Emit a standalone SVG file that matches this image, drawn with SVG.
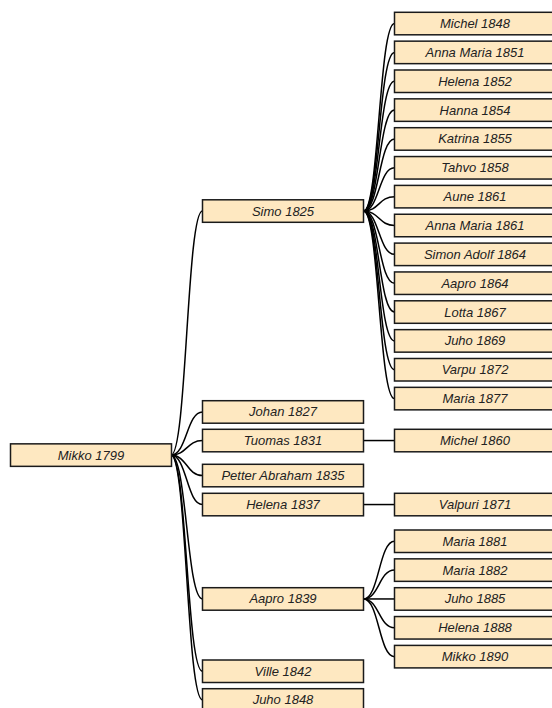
<svg xmlns="http://www.w3.org/2000/svg" width="552" height="708" viewBox="0 0 552 708">
<style>
.n rect{fill:#fee8c1;stroke:#1a1a1a;stroke-width:1.5}
.n text{font-family:"Liberation Sans",Arial,sans-serif;font-style:italic;font-size:13px;fill:#222;text-anchor:middle}
#links path{fill:none;stroke:#000;stroke-width:1.5}
</style>
<rect width="552" height="708" fill="#fff"/>
<g id="links">
<path d="M171,455.1C186.75,455.1 186.75,211.05 202.5,211.05"/>
<path d="M171,455.1C186.75,455.1 186.75,411.95 202.5,411.95"/>
<path d="M171,455.1C186.75,455.1 186.75,440.55 202.5,440.55"/>
<path d="M171,455.1C186.75,455.1 186.75,475.55 202.5,475.55"/>
<path d="M171,455.1C186.75,455.1 186.75,504.55 202.5,504.55"/>
<path d="M171,455.1C186.75,455.1 186.75,598.95 202.5,598.95"/>
<path d="M171,455.1C186.75,455.1 186.75,671.25 202.5,671.25"/>
<path d="M171,455.1C186.75,455.1 186.75,699.95 202.5,699.95"/>
<path d="M363.5,211.05C379,211.05 379,23.55 394.5,23.55"/>
<path d="M363.5,211.05C379,211.05 379,52.4 394.5,52.4"/>
<path d="M363.5,211.05C379,211.05 379,81.25 394.5,81.25"/>
<path d="M363.5,211.05C379,211.05 379,110.1 394.5,110.1"/>
<path d="M363.5,211.05C379,211.05 379,138.95 394.5,138.95"/>
<path d="M363.5,211.05C379,211.05 379,167.8 394.5,167.8"/>
<path d="M363.5,211.05C379,211.05 379,196.65 394.5,196.65"/>
<path d="M363.5,211.05C379,211.05 379,225.5 394.5,225.5"/>
<path d="M363.5,211.05C379,211.05 379,254.35 394.5,254.35"/>
<path d="M363.5,211.05C379,211.05 379,283.2 394.5,283.2"/>
<path d="M363.5,211.05C379,211.05 379,312.05 394.5,312.05"/>
<path d="M363.5,211.05C379,211.05 379,340.9 394.5,340.9"/>
<path d="M363.5,211.05C379,211.05 379,369.75 394.5,369.75"/>
<path d="M363.5,211.05C379,211.05 379,398.6 394.5,398.6"/>
<path d="M363.5,440.55C379,440.55 379,440.55 394.5,440.55"/>
<path d="M363.5,504.55C379,504.55 379,504.55 394.5,504.55"/>
<path d="M363.5,598.95C379,598.95 379,541.25 394.5,541.25"/>
<path d="M363.5,598.95C379,598.95 379,570.1 394.5,570.1"/>
<path d="M363.5,598.95C379,598.95 379,598.95 394.5,598.95"/>
<path d="M363.5,598.95C379,598.95 379,627.8 394.5,627.8"/>
<path d="M363.5,598.95C379,598.95 379,656.65 394.5,656.65"/>
</g>
<g id="n-mikko1799" class="n"><rect x="10.5" y="443.85" width="161" height="22.5"/><text x="91" y="459.6">Mikko 1799</text></g>
<g id="n-simo1825" class="n"><rect x="202.5" y="199.8" width="161" height="22.5"/><text x="283" y="215.55">Simo 1825</text></g>
<g id="n-johan1827" class="n"><rect x="202.5" y="400.7" width="161" height="22.5"/><text x="283" y="416.45">Johan 1827</text></g>
<g id="n-tuomas1831" class="n"><rect x="202.5" y="429.3" width="161" height="22.5"/><text x="283" y="445.05">Tuomas 1831</text></g>
<g id="n-petter1835" class="n"><rect x="202.5" y="464.3" width="161" height="22.5"/><text x="283" y="480.05">Petter Abraham 1835</text></g>
<g id="n-helena1837" class="n"><rect x="202.5" y="493.3" width="161" height="22.5"/><text x="283" y="509.05">Helena 1837</text></g>
<g id="n-aapro1839" class="n"><rect x="202.5" y="587.7" width="161" height="22.5"/><text x="283" y="603.45">Aapro 1839</text></g>
<g id="n-ville1842" class="n"><rect x="202.5" y="660" width="161" height="22.5"/><text x="283" y="675.75">Ville 1842</text></g>
<g id="n-juho1848" class="n"><rect x="202.5" y="688.7" width="161" height="22.5"/><text x="283" y="704.45">Juho 1848</text></g>
<g id="n-michel1848" class="n"><rect x="394.5" y="12.3" width="161" height="22.5"/><text x="475" y="28.05">Michel 1848</text></g>
<g id="n-annamaria1851" class="n"><rect x="394.5" y="41.15" width="161" height="22.5"/><text x="475" y="56.9">Anna Maria 1851</text></g>
<g id="n-helena1852" class="n"><rect x="394.5" y="70" width="161" height="22.5"/><text x="475" y="85.75">Helena 1852</text></g>
<g id="n-hanna1854" class="n"><rect x="394.5" y="98.85" width="161" height="22.5"/><text x="475" y="114.6">Hanna 1854</text></g>
<g id="n-katrina1855" class="n"><rect x="394.5" y="127.7" width="161" height="22.5"/><text x="475" y="143.45">Katrina 1855</text></g>
<g id="n-tahvo1858" class="n"><rect x="394.5" y="156.55" width="161" height="22.5"/><text x="475" y="172.3">Tahvo 1858</text></g>
<g id="n-aune1861" class="n"><rect x="394.5" y="185.4" width="161" height="22.5"/><text x="475" y="201.15">Aune 1861</text></g>
<g id="n-annamaria1861" class="n"><rect x="394.5" y="214.25" width="161" height="22.5"/><text x="475" y="230">Anna Maria 1861</text></g>
<g id="n-simonadolf1864" class="n"><rect x="394.5" y="243.1" width="161" height="22.5"/><text x="475" y="258.85">Simon Adolf 1864</text></g>
<g id="n-aapro1864" class="n"><rect x="394.5" y="271.95" width="161" height="22.5"/><text x="475" y="287.7">Aapro 1864</text></g>
<g id="n-lotta1867" class="n"><rect x="394.5" y="300.8" width="161" height="22.5"/><text x="475" y="316.55">Lotta 1867</text></g>
<g id="n-juho1869" class="n"><rect x="394.5" y="329.65" width="161" height="22.5"/><text x="475" y="345.4">Juho 1869</text></g>
<g id="n-varpu1872" class="n"><rect x="394.5" y="358.5" width="161" height="22.5"/><text x="475" y="374.25">Varpu 1872</text></g>
<g id="n-maria1877" class="n"><rect x="394.5" y="387.35" width="161" height="22.5"/><text x="475" y="403.1">Maria 1877</text></g>
<g id="n-michel1860" class="n"><rect x="394.5" y="429.3" width="161" height="22.5"/><text x="475" y="445.05">Michel 1860</text></g>
<g id="n-valpuri1871" class="n"><rect x="394.5" y="493.3" width="161" height="22.5"/><text x="475" y="509.05">Valpuri 1871</text></g>
<g id="n-maria1881" class="n"><rect x="394.5" y="530" width="161" height="22.5"/><text x="475" y="545.75">Maria 1881</text></g>
<g id="n-maria1882" class="n"><rect x="394.5" y="558.85" width="161" height="22.5"/><text x="475" y="574.6">Maria 1882</text></g>
<g id="n-juho1885" class="n"><rect x="394.5" y="587.7" width="161" height="22.5"/><text x="475" y="603.45">Juho 1885</text></g>
<g id="n-helena1888" class="n"><rect x="394.5" y="616.55" width="161" height="22.5"/><text x="475" y="632.3">Helena 1888</text></g>
<g id="n-mikko1890" class="n"><rect x="394.5" y="645.4" width="161" height="22.5"/><text x="475" y="661.15">Mikko 1890</text></g>
</svg>
